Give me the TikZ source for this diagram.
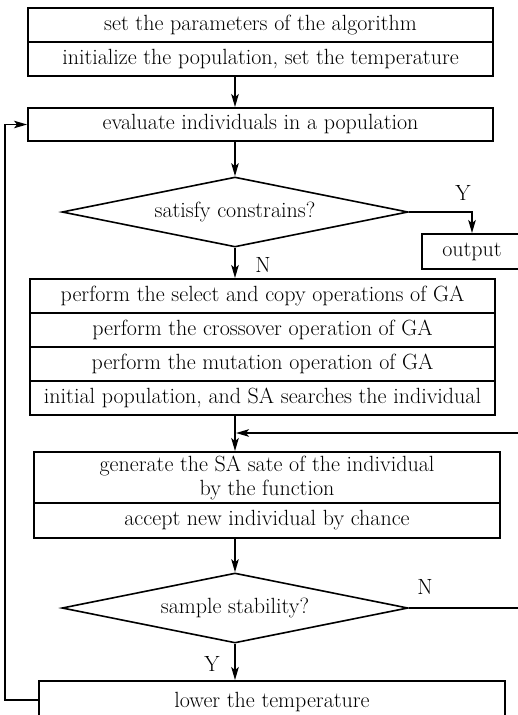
\documentclass[tikz,border=0pt]{standalone}
\usetikzlibrary{shapes.geometric,arrows.meta}
\begin{document}
\begin{tikzpicture}[x=1pt,y=-1pt,
  txt/.style={font=\fontsize{22}{24}\selectfont},
  box/.style={txt,draw,line width=1.9pt,rectangle,inner sep=0pt,align=center},
  dia/.style={txt,draw,line width=1.6pt,diamond,inner sep=0pt,minimum width=346pt,minimum height=70pt,aspect=4.94},
  arr/.style={line width=1.6pt,-{Stealth[length=13pt,width=7.5pt,inset=3pt]}},
  lab/.style={txt,inner sep=0pt}]
\clip (0,0) rectangle (518,715);
\useasboundingbox (0,0) rectangle (518,715);
\fill[white] (0,0) rectangle (518,715);
% top group
\node[box,minimum width=465pt,minimum height=34pt] (p1) at (260.5,25) {set the parameters of the algorithm};
\node[box,minimum width=465pt,minimum height=34pt] (p2) at (260.5,59) {initialize the population, set the temperature};
\node[box,minimum width=465pt,minimum height=33pt] (ev) at (260.5,124.5) {evaluate individuals in a population};
\node[dia] (d1) at (235,212) {satisfy constrains?};
\node[box,minimum width=100pt,minimum height=35pt] (out) at (472,251.5) {output};
% GA group
\node[box,minimum width=465pt,minimum height=34pt] (g1) at (262.5,296) {perform the select and copy operations of GA};
\node[box,minimum width=465pt,minimum height=34pt] (g2) at (262.5,330) {perform the crossover operation of GA};
\node[box,minimum width=465pt,minimum height=34pt] (g3) at (262.5,364) {perform the mutation operation of GA};
\node[box,minimum width=465pt,minimum height=34pt] (g4) at (262.5,398) {initial population, and SA searches the individual};
% SA group
\node[box,minimum width=466pt,minimum height=51pt] (sa1) at (267,477.5) {generate the SA sate of the individual\\by the function};
\node[box,minimum width=466pt,minimum height=35pt] (sa2) at (267,520.5) {accept new individual by chance};
\node[dia] (d2) at (235,608) {sample stability?};
\node[box,minimum width=466pt,minimum height=42pt] (low) at (272,702) {lower the temperature};
% labels
\node[lab] (ly1) at (463,193) {Y};
\node[lab] (ln1) at (263,265) {N};
\node[lab] (ln2) at (425,587) {N};
\node[lab] (ly2) at (212,664) {Y};
% coordinates
\coordinate (rb) at (530,608);
\coordinate (rt) at (530,433);
\coordinate (jn) at (235,433);
\coordinate (lf) at (5,700);
% connectors
\draw[arr] (d1.north |- p2.south) -- (d1.north |- ev.north);
\draw[arr] (ev.south -| d1.north) -- (d1.north);
\draw[arr] (d1.east) -| (out.north);
\draw[arr] (d1.south) -- (d1.south |- g1.north);
\draw[arr] (d1.south |- g4.south) -- (d1.south |- sa1.north);
\draw[arr] (d2.east) -- (rb) -- (rt) -- ([xshift=1pt]jn);
\draw[arr] (sa2.south -| d2.north) -- (d2.north);
\draw[arr] (d2.south) -- (d2.south |- low.north);
\draw[arr] (low.west |- lf) -- (lf) |- (ev.west);
\end{tikzpicture}
\end{document}
